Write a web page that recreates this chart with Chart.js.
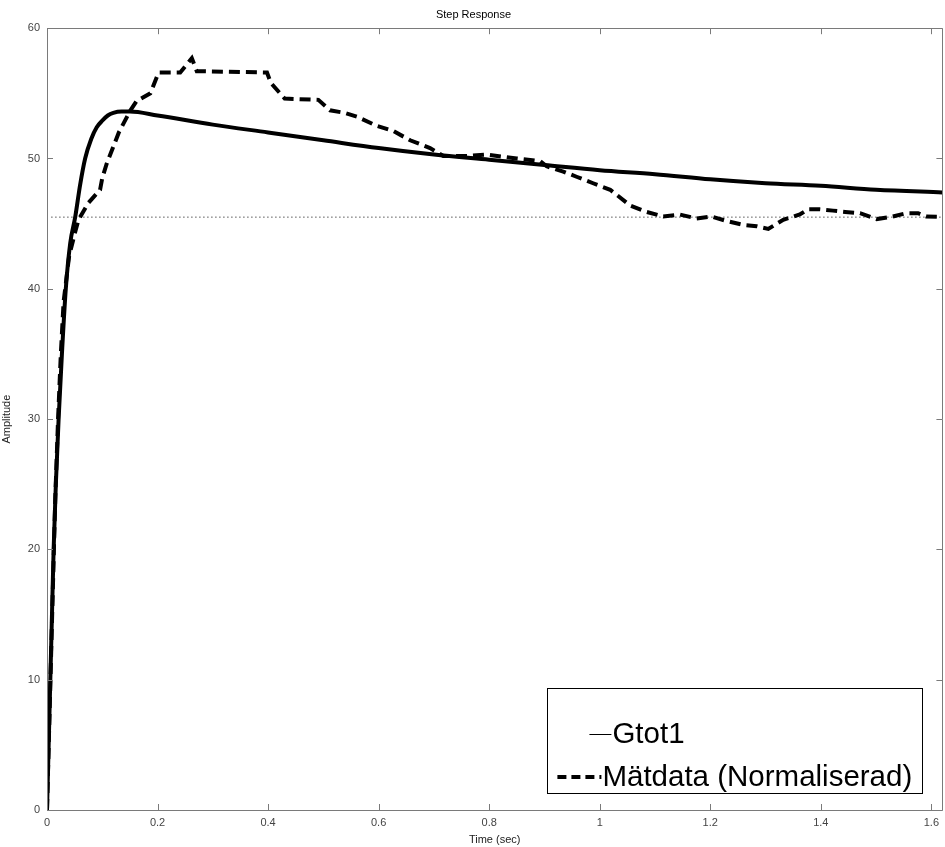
<!DOCTYPE html>
<html>
<head>
<meta charset="utf-8">
<script src="https://cdn.jsdelivr.net/npm/chart.js@4.4.0/dist/chart.umd.min.js"></script>
<style>
  body { margin: 0; background: #fff; }
  #wrap { width: 945px; height: 847px; }
</style>
</head>
<body>
<div id="wrap"><canvas id="stepChart" width="945" height="847"></canvas></div>
<script>
// Gtot1 (model step response)
var timeGtot = [0, 0.003, 0.006, 0.009, 0.012, 0.016, 0.021, 0.027, 0.034, 0.042, 0.051, 0.06, 0.069, 0.08, 0.09, 0.1, 0.11, 0.12, 0.135, 0.15, 0.2, 0.3, 0.4, 0.5, 0.6, 0.7, 0.8, 0.9, 1.0, 1.1, 1.2, 1.3, 1.4, 1.5, 1.62];
var ampGtot = [0, 5, 10, 15, 20, 25, 30, 35, 40, 43.5, 45.5, 48, 50, 51.5, 52.4, 52.9, 53.3, 53.5, 53.6, 53.6, 53.3, 52.6, 52.0, 51.4, 50.8, 50.3, 49.9, 49.5, 49.1, 48.8, 48.4, 48.1, 47.9, 47.6, 47.4];

// Mätdata (Normaliserad)
var timeMeas = [0, 0.005, 0.01, 0.015, 0.02, 0.025, 0.03, 0.04, 0.05, 0.057, 0.075, 0.096, 0.1, 0.108, 0.13, 0.151, 0.162, 0.187, 0.202, 0.241, 0.262, 0.271, 0.398, 0.405, 0.43, 0.491, 0.512, 0.539, 0.561, 0.597, 0.627, 0.657, 0.693, 0.717, 0.76, 0.795, 0.85, 0.892, 0.904, 0.934, 0.958, 0.988, 1.019, 1.055, 1.085, 1.115, 1.145, 1.175, 1.202, 1.23, 1.26, 1.284, 1.305, 1.332, 1.362, 1.377, 1.398, 1.422, 1.444, 1.471, 1.501, 1.525, 1.555, 1.576, 1.591, 1.624];
var ampMeas = [0, 8, 16, 24, 30, 35, 39, 42.5, 44.2, 45.3, 46.6, 47.6, 48.5, 49.6, 52, 53.7, 54.4, 55.0, 56.6, 56.6, 57.7, 56.7, 56.6, 55.8, 54.6, 54.5, 53.7, 53.5, 53.2, 52.5, 52.1, 51.4, 50.8, 50.2, 50.2, 50.3, 50.0, 49.8, 49.4, 49.0, 48.6, 48.1, 47.6, 46.4, 45.9, 45.55, 45.7, 45.4, 45.55, 45.2, 44.9, 44.8, 44.6, 45.3, 45.7, 46.1, 46.1, 46.0, 45.9, 45.8, 45.35, 45.5, 45.8, 45.8, 45.55, 45.5];

// steady state level (dotted)
var steadyTime = [0.008, 1.624];
var steadyAmp = [45.5, 45.5];

var legendLabels = ['Gtot1', 'Mätdata (Normaliserad)'];

var fontFamily = '"Liberation Sans", Arial, sans-serif';

var toPoints = function (xs, ys) {
    var pts = [];
    for (var i = 0; i < xs.length; i++) {
        pts.push({ x: xs[i], y: ys[i] });
    }
    return pts;
};

// frame with inward ticks on all four sides, plus the boxed legend
var matlabFrame = {
    id: 'matlabFrame',
    afterDraw: function (chart) {
        var ctx = chart.ctx;
        var ca = chart.chartArea;
        var xs = chart.scales.x;
        var ys = chart.scales.y;
        var tick = 6;

        ctx.save();
        ctx.strokeStyle = '#7a7a7a';
        ctx.lineWidth = 1;
        ctx.beginPath();
        ctx.rect(Math.round(ca.left) + 0.5, Math.round(ca.top) + 0.5, Math.round(ca.right - ca.left), Math.round(ca.bottom - ca.top));
        ctx.stroke();

        ctx.beginPath();
        xs.ticks.forEach(function (t) {
            var px = Math.round(xs.getPixelForValue(t.value)) + 0.5;
            ctx.moveTo(px, ca.bottom);
            ctx.lineTo(px, ca.bottom - tick);
            ctx.moveTo(px, ca.top);
            ctx.lineTo(px, ca.top + tick);
        });
        ys.ticks.forEach(function (t) {
            var py = Math.round(ys.getPixelForValue(t.value)) + 0.5;
            ctx.moveTo(ca.left, py);
            ctx.lineTo(ca.left + tick, py);
            ctx.moveTo(ca.right, py);
            ctx.lineTo(ca.right - tick, py);
        });
        ctx.stroke();

        // legend box
        var bx1 = ca.right - 20, by2 = ca.bottom - 17;
        var bx0 = bx1 - 375, by0 = by2 - 105;
        ctx.fillStyle = '#fff';
        ctx.fillRect(bx0, by0, bx1 - bx0, by2 - by0);
        ctx.strokeStyle = '#000';
        ctx.lineWidth = 1;
        ctx.strokeRect(Math.round(bx0) + 0.5, Math.round(by0) + 0.5, Math.round(bx1 - bx0), Math.round(by2 - by0));

        var row1 = by0 + 46, row2 = by0 + 89;
        ctx.beginPath();
        ctx.moveTo(bx0 + 42, row1 + 0.5);
        ctx.lineTo(bx0 + 64, row1 + 0.5);
        ctx.stroke();

        ctx.lineWidth = 4;
        ctx.setLineDash([9, 5]);
        ctx.beginPath();
        ctx.moveTo(bx0 + 10, row2);
        ctx.lineTo(bx0 + 54, row2);
        ctx.stroke();
        ctx.setLineDash([]);

        ctx.fillStyle = '#000';
        ctx.font = '29.5px ' + fontFamily;
        ctx.textBaseline = 'middle';
        ctx.textAlign = 'left';
        ctx.fillText(legendLabels[0], bx0 + 65, row1 + 1);
        ctx.fillText(legendLabels[1], bx0 + 55, row2 + 1);
        ctx.restore();
    }
};

var ctx = document.getElementById('stepChart').getContext('2d');
var chart = new Chart(ctx, {
    type: 'line',
    data: {
        datasets: [{
            label: 'steady state',
            data: toPoints(steadyTime, steadyAmp),
            borderColor: '#000',
            borderWidth: 1,
            borderDash: [1, 3],
            pointRadius: 0,
            tension: 0
        }, {
            label: legendLabels[1],
            data: toPoints(timeMeas, ampMeas),
            borderColor: '#000',
            borderWidth: 4,
            borderDash: [11, 6],
            borderCapStyle: 'butt',
            pointRadius: 0,
            tension: 0
        }, {
            label: legendLabels[0],
            data: toPoints(timeGtot, ampGtot),
            borderColor: '#000',
            borderWidth: 4,
            borderCapStyle: 'round',
            borderJoinStyle: 'round',
            pointRadius: 0,
            cubicInterpolationMode: 'monotone'
        }]
    },
    options: {
        responsive: false,
        animation: false,
        layout: { padding: { right: -2 } },
        plugins: {
            legend: { display: false },
            tooltip: { enabled: false },
            title: {
                display: true,
                text: 'Step Response',
                color: '#000',
                font: { family: fontFamily, size: 11, weight: 'normal' },
                padding: { top: 8, bottom: 7 }
            }
        },
        scales: {
            x: {
                type: 'linear',
                min: 0,
                max: 1.62,
                grid: { display: false, drawTicks: false },
                border: { display: false },
                ticks: {
                    stepSize: 0.2,
                    includeBounds: false,
                    padding: 6,
                    color: '#444',
                    maxRotation: 0,
                    font: { family: fontFamily, size: 11 },
                    callback: function (v) { return Math.round(v * 10) / 10; }
                },
                title: {
                    display: true,
                    text: 'Time (sec)',
                    color: '#222',
                    font: { family: fontFamily, size: 11 },
                    padding: { top: 2, bottom: 0 }
                },
                afterFit: function (scale) { scale.height = 37; }
            },
            y: {
                min: 0,
                max: 60,
                grid: { display: false, drawTicks: false },
                border: { display: false },
                ticks: {
                    stepSize: 10,
                    padding: 7,
                    color: '#444',
                    font: { family: fontFamily, size: 11 }
                },
                title: {
                    display: true,
                    text: 'Amplitude',
                    color: '#222',
                    font: { family: fontFamily, size: 11 },
                    padding: { top: 0, bottom: 0 }
                },
                afterFit: function (scale) { scale.width = 47; }
            }
        }
    },
    plugins: [matlabFrame]
});
</script>
</body>
</html>
